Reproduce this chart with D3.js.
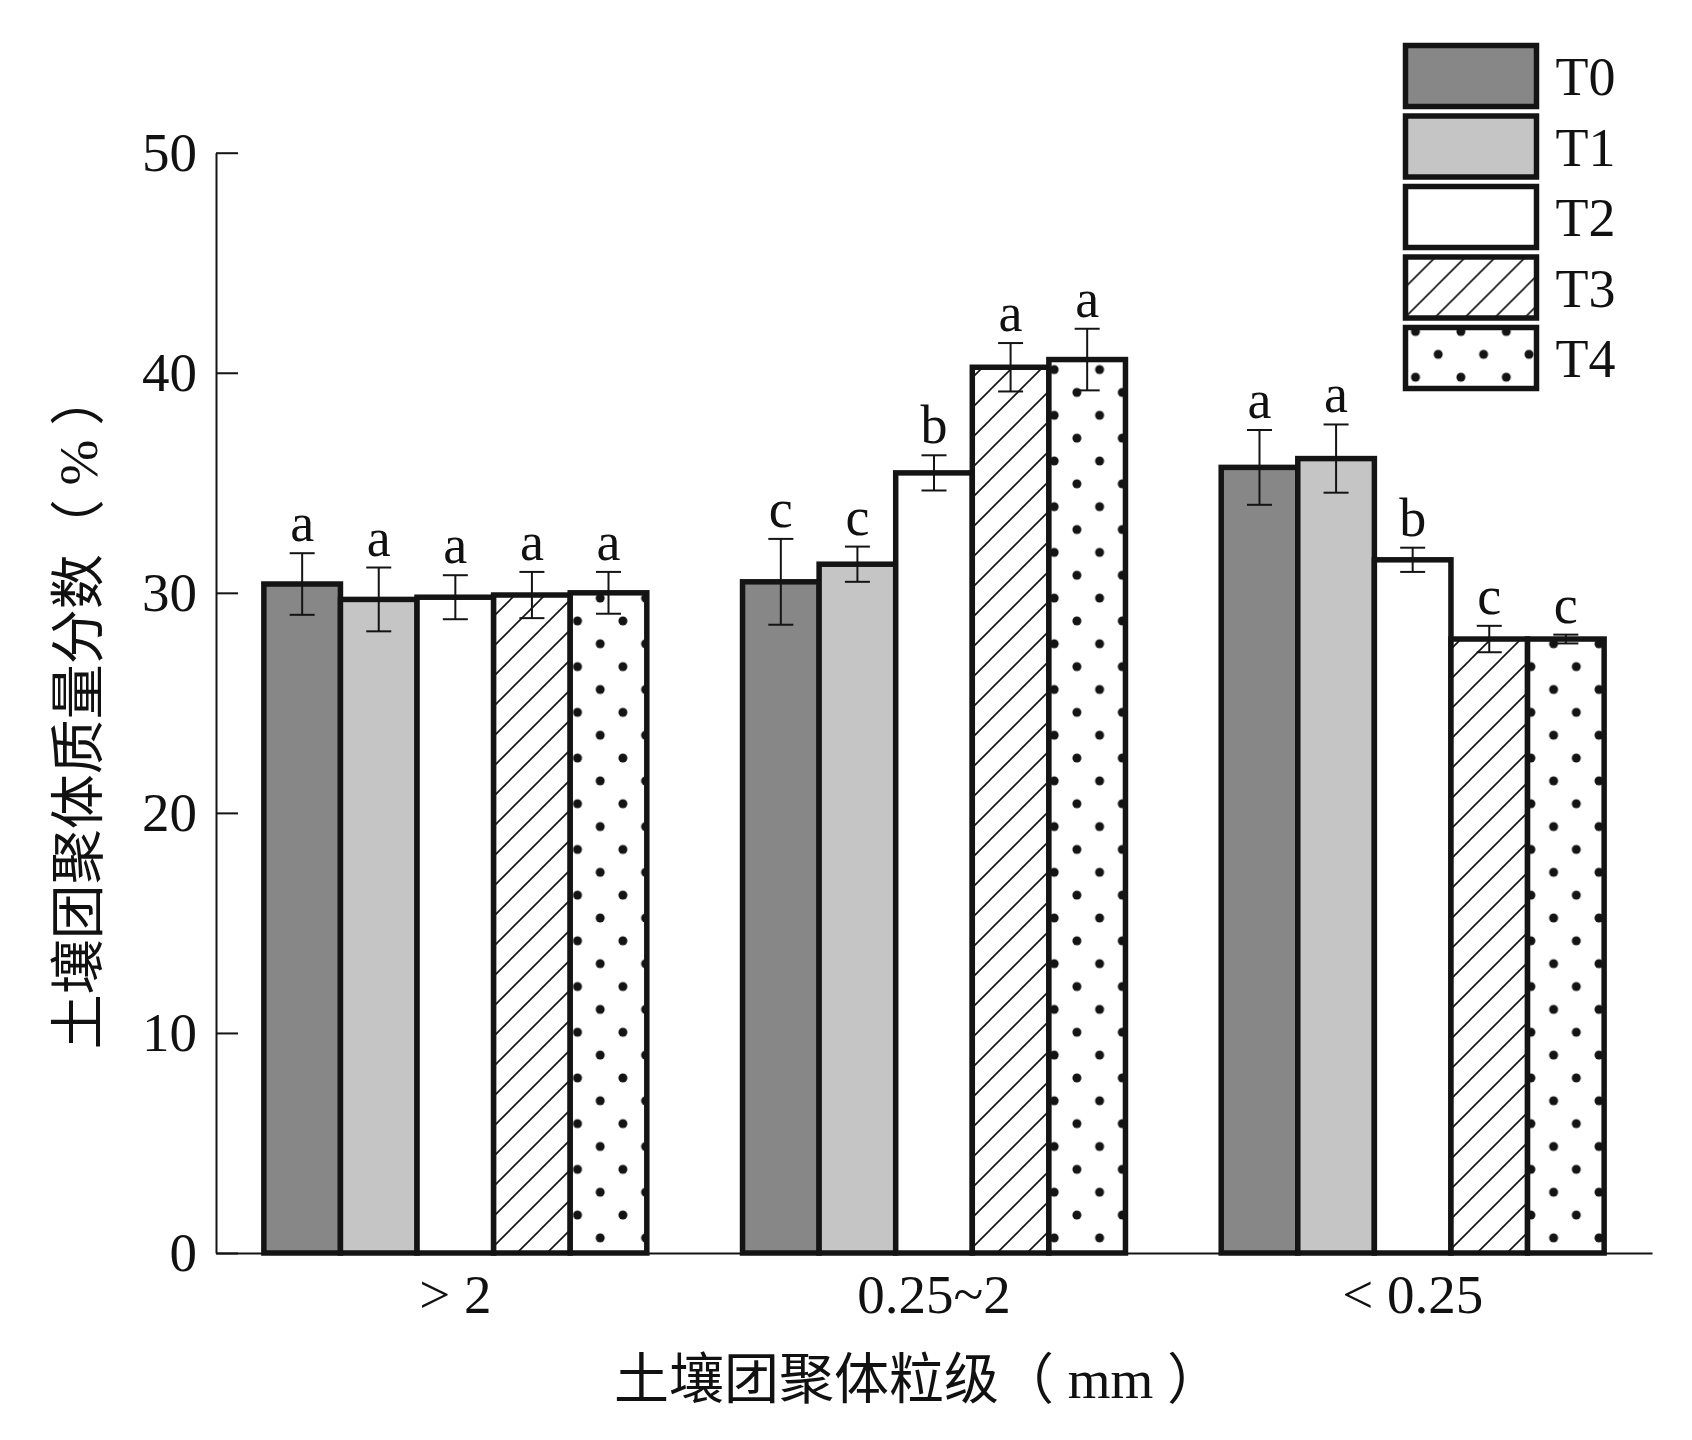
<!DOCTYPE html>
<html>
<head>
<meta charset="utf-8">
<script src="https://cdn.jsdelivr.net/npm/d3@7"></script>
<style>
  body { margin: 0; background: #fff; }
  svg text { font-family: "Liberation Serif", "Noto Sans CJK SC", serif; fill: #111; }
</style>
</head>
<body>
<div id="chart"></div>
<script>
// categories and series
const categories = ["> 2", "0.25~2", "< 0.25"];
const treatments = ["T0", "T1", "T2", "T3", "T4"];

const valuesT0 = [30.4, 30.5, 35.7];
const valuesT1 = [29.7, 31.3, 36.1];
const valuesT2 = [29.8, 35.45, 31.5];
const valuesT3 = [29.9, 40.25, 27.9];
const valuesT4 = [30.0, 40.6, 27.9];

const errT0 = [1.4, 1.95, 1.7];
const errT1 = [1.45, 0.8, 1.55];
const errT2 = [1.0, 0.8, 0.55];
const errT3 = [1.05, 1.1, 0.6];
const errT4 = [0.95, 1.4, 0.2];

const lettersT0 = ["a", "c", "a"];
const lettersT1 = ["a", "c", "a"];
const lettersT2 = ["a", "b", "b"];
const lettersT3 = ["a", "a", "c"];
const lettersT4 = ["a", "a", "c"];

const yTicks = [0, 10, 20, 30, 40, 50];

const yTitle = "土壤团聚体质量分数（ % ）";
const xTitle = "土壤团聚体粒级（ mm ）";

const seriesValues = [valuesT0, valuesT1, valuesT2, valuesT3, valuesT4];
const seriesErr = [errT0, errT1, errT2, errT3, errT4];
const seriesLetters = [lettersT0, lettersT1, lettersT2, lettersT3, lettersT4];

const width = 1692, height = 1440;
const fills = ["#878787", "#c5c5c5", "#ffffff", "url(#hatch)", "url(#dots)"];
const ink = "#141414";

const svg = d3.select("#chart").append("svg")
    .attr("width", width)
    .attr("height", height);

// patterns
const defs = svg.append("defs");
const hatch = defs.append("pattern")
    .attr("id", "hatch")
    .attr("patternUnits", "userSpaceOnUse")
    .attr("width", 30).attr("height", 30);
hatch.append("rect").attr("width", 30).attr("height", 30).attr("fill", "#fff");
hatch.append("path")
    .attr("d", "M-7.5,7.5 L7.5,-7.5 M0,30 L30,0 M22.5,37.5 L37.5,22.5")
    .attr("stroke", ink).attr("stroke-width", 1.6);

const dots = defs.append("pattern")
    .attr("id", "dots")
    .attr("patternUnits", "userSpaceOnUse")
    .attr("x", 10).attr("y", 4)
    .attr("width", 45.4).attr("height", 45.7);
dots.append("rect").attr("width", 45.4).attr("height", 45.7).attr("fill", "#fff");
[[0, 0], [45.4, 0], [0, 45.7], [45.4, 45.7], [22.7, 22.85]].forEach(p => {
    dots.append("circle").attr("cx", p[0]).attr("cy", p[1]).attr("r", 4.5).attr("fill", ink);
});

// scales
const x0 = d3.scaleBand()
    .domain(categories)
    .range([216, 1652])
    .paddingInner(0.2)
    .paddingOuter(0.1);

const x1 = d3.scaleBand()
    .domain(treatments)
    .range([0, x0.bandwidth()]);

const y = d3.scaleLinear()
    .domain([0, 50])
    .range([1253, 152.7]);

// bars
const bars = [];
treatments.forEach((t, i) => {
    categories.forEach((c, j) => {
        bars.push({t: t, i: i, c: c, v: seriesValues[i][j], e: seriesErr[i][j], l: seriesLetters[i][j]});
    });
});

const groups = svg.append("g");
groups.selectAll("rect")
    .data(bars)
    .enter()
    .append("rect")
        .attr("x", d => x0(d.c) + x1(d.t))
        .attr("y", d => y(d.v))
        .attr("width", x1.bandwidth())
        .attr("height", d => y(0) - y(d.v))
        .attr("fill", d => fills[d.i])
        .attr("stroke", ink)
        .attr("stroke-width", 5.5);

// error bars
const cap = 12.5;
const err = svg.append("g").attr("stroke", ink).attr("stroke-width", 2);
bars.forEach(d => {
    const cx = x0(d.c) + x1(d.t) + x1.bandwidth() / 2;
    err.append("line").attr("x1", cx).attr("x2", cx)
        .attr("y1", y(d.v + d.e)).attr("y2", y(d.v - d.e));
    err.append("line").attr("x1", cx - cap).attr("x2", cx + cap)
        .attr("y1", y(d.v + d.e)).attr("y2", y(d.v + d.e));
    err.append("line").attr("x1", cx - cap).attr("x2", cx + cap)
        .attr("y1", y(d.v - d.e)).attr("y2", y(d.v - d.e));
});

// significance letters
svg.append("g").selectAll("text")
    .data(bars)
    .enter()
    .append("text")
        .attr("x", d => x0(d.c) + x1(d.t) + x1.bandwidth() / 2)
        .attr("y", d => y(d.v + d.e) - 12)
        .attr("text-anchor", "middle")
        .attr("font-size", 54)
        .text(d => d.l);

// axes
const yAxis = svg.append("g")
    .attr("transform", "translate(216,0)")
    .call(d3.axisLeft(y).tickValues(yTicks).tickSizeInner(-22).tickSizeOuter(0).tickPadding(19));
yAxis.selectAll("path, line").attr("stroke", ink).attr("stroke-width", 2);
yAxis.selectAll("text").attr("font-size", 55).attr("font-family", "Liberation Serif").attr("fill", "#111");

const xAxis = svg.append("g")
    .attr("transform", `translate(0,${y(0)})`)
    .call(d3.axisBottom(x0).tickSize(0).tickPadding(21));
xAxis.select(".domain").attr("stroke", ink).attr("stroke-width", 2);
xAxis.selectAll("text").attr("font-size", 55).attr("font-family", "Liberation Serif").attr("fill", "#111");

// titles
svg.append("text")
    .attr("x", 918)
    .attr("y", 1398)
    .attr("text-anchor", "middle")
    .attr("font-size", 55)
    .text(xTitle);

svg.append("text")
    .attr("transform", "translate(78,710) rotate(-90)")
    .attr("text-anchor", "middle")
    .attr("dominant-baseline", "central")
    .attr("font-size", 55)
    .text(yTitle);

// legend
const legend = svg.append("g").attr("transform", "translate(1405.5,45.5)");
treatments.forEach((t, i) => {
    const row = legend.append("g").attr("transform", `translate(0,${i * 70.5})`);
    row.append("rect")
        .attr("width", 131).attr("height", 61)
        .attr("fill", fills[i])
        .attr("stroke", ink).attr("stroke-width", 5.5);
    row.append("text")
        .attr("x", 150).attr("y", 49.5)
        .attr("font-size", 54)
        .text(t);
});
</script>
</body>
</html>
